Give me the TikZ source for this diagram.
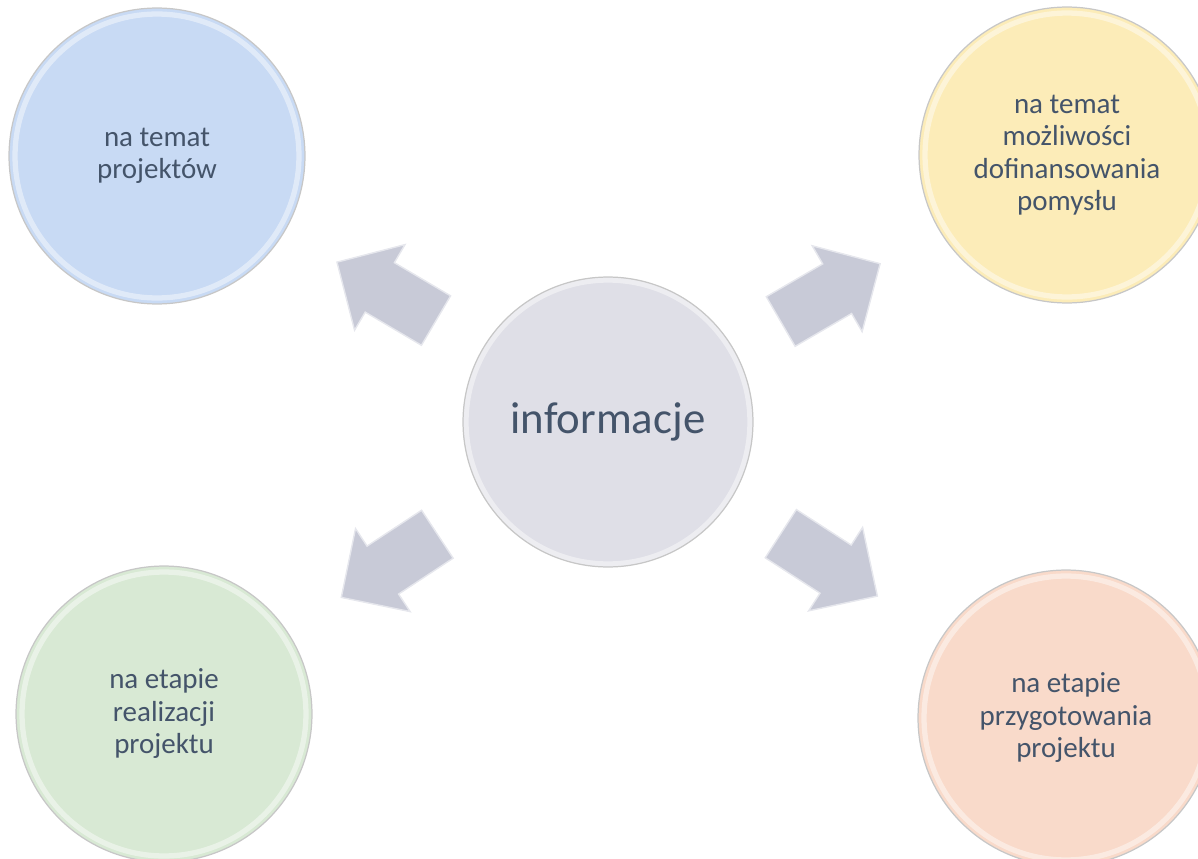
\documentclass[tikz,border=0pt]{standalone}
\usepackage{fontspec}
\setmainfont{Carlito}
\usetikzlibrary{shapes.arrows}
\definecolor{textblue}{HTML}{44546A}
\definecolor{bluefill}{RGB}{200,218,244}
\definecolor{yellowfill}{RGB}{252,236,184}
\definecolor{greenfill}{RGB}{216,233,212}
\definecolor{peachfill}{RGB}{249,218,202}
\definecolor{grayfill}{RGB}{223,223,231}
\definecolor{arrowfill}{RGB}{200,202,215}
\tikzset{
  bubble/.style={circle, minimum size=5.92cm, inner sep=0pt, draw=black!22,
    line width=0.7pt, text=textblue, align=center,
    font=\fontsize{16.5}{18.5}\selectfont,
    path picture={\draw[white, opacity=.45, line width=3pt]
      (path picture bounding box.center) circle[radius=2.84cm];}},
  blockarrow/.style={single arrow, draw=white!55!arrowfill, fill=arrowfill,
    line width=0.8pt, minimum height=2.3cm, minimum width=0pt,
    inner xsep=0pt, inner ysep=0.56cm, anchor=tail,
    single arrow head extend=0.42cm, single arrow tip angle=90}
}
\begin{document}
\begin{tikzpicture}[x=0.02cm, y=-0.02cm]
\useasboundingbox (0,0) rectangle (1198,859);
\clip (0,0) rectangle (1198,859);
\node[bubble, fill=grayfill, minimum size=5.8cm, font=\fontsize{25.5}{28}\selectfont] (info) at (608,422) {informacje};
\node[bubble, fill=bluefill] (proj) at (157,156) {na temat\\projektów};
\node[bubble, fill=yellowfill] (dofin) at (1067,155) {na temat\\możliwości\\dofinansowania\\pomysłu};
\node[bubble, fill=greenfill] (real) at (164,714) {na etapie\\realizacji\\projektu};
\node[bubble, fill=peachfill] (przyg) at (1066,718) {na etapie\\przygotowania\\projektu};
\path (info.center) -- node[blockarrow, pos=.38, sloped, allow upside down] (arr1) {} (proj.center);
\path (info.center) -- node[blockarrow, pos=.375, sloped, allow upside down] (arr2) {} (dofin.center);
\path (info.center) -- node[blockarrow, pos=.383, sloped, allow upside down] (arr3) {} (real.center);
\path (info.center) -- node[blockarrow, pos=.376, sloped, allow upside down] (arr4) {} (przyg.center);
\end{tikzpicture}
\end{document}
